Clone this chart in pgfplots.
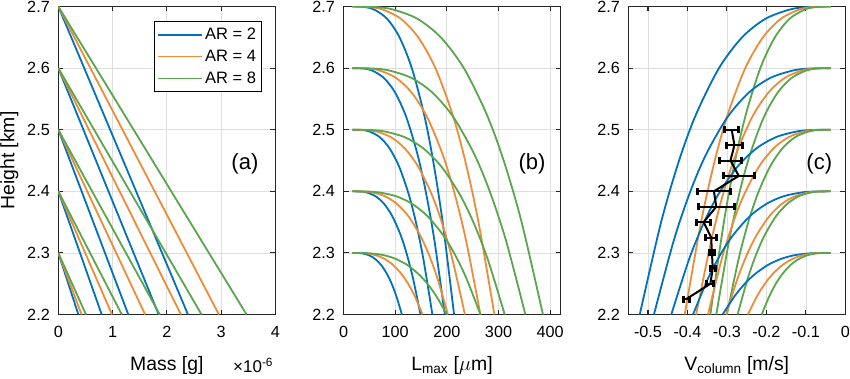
\documentclass[border=0pt]{standalone}
\usepackage{pgfplots}
\pgfplotsset{compat=1.18}
\usepackage{pgfplotstable}
\usepackage{fontspec}
\setmainfont{Liberation Sans}

\definecolor{mblue}{rgb}{0.0,0.447,0.741}
\definecolor{morange}{rgb}{0.93,0.55,0.22}
\definecolor{mgreen}{rgb}{0.35,0.65,0.30}

% Lmax table: heights h1..h5 (start 2.3..2.7), L for blue/orange/green
\pgfplotstableread{
h1 h2 h3 h4 h5 b1 b2 b3 b4 b5 o1 o2 o3 o4 o5 g1 g2 g3 g4 g5
2.3 2.4 2.5 2.6 2.7 17 17 17 17 17 17 17 17 17 17 17 17 17 17 17
2.2998 2.3996 2.4994 2.5992 2.699 29.1 33.6 36.5 39.6 41.8 34.1 40.3 44.5 48.2 51.7 40.1 48.2 54.2 59.2 63.5
2.299 2.398 2.497 2.596 2.695 37.6 45.4 50.3 55.5 59.4 46.2 56.8 63.9 70.3 76.1 56.3 70.3 80.4 89.0 96.3
2.296 2.392 2.488 2.584 2.68 49.8 62.1 70.0 78.2 84.4 63.5 80.3 91.6 101.8 111.1 79.6 101.8 117.9 131.6 143.2
2.29 2.38 2.47 2.56 2.65 61.5 78.2 88.9 100.1 108.4 80.1 102.8 118.2 132.1 144.6 101.9 132.1 153.9 172.4 188.2
2.28 2.36 2.44 2.52 2.6 73.2 94.2 107.7 121.7 132.2 96.6 125.2 144.5 162.1 177.9 124.1 162.1 189.6 213.0 232.9
2.265 2.33 2.395 2.46 2.525 84.7 110.1 126.3 143.2 155.9 112.9 147.4 170.7 191.8 210.9 146.0 191.8 225.0 253.2 277.1
2.25 2.3 2.35 2.4 2.45 93.2 121.8 140.1 159.1 173.4 125.0 163.9 190.1 213.9 235.4 162.3 213.9 251.2 283.0 310.0
2.23 2.26 2.29 2.32 2.35 102.2 134.2 154.6 176.0 191.9 137.8 181.3 210.6 237.2 261.2 179.5 237.2 279.0 314.5 344.7
2.2 2.2 2.2 2.2 2.2 113 149 172 196 214 153 202 235 265 292 200 265 312 352 386
}\Ltab

% V column table
\pgfplotstableread{
h1 h2 h3 h4 h5 b1 b2 b3 b4 b5 o1 o2 o3 o4 o5 g1 g2 g3 g4 g5
2.3 2.4 2.5 2.6 2.7 -0.037 -0.037 -0.037 -0.037 -0.037 -0.037 -0.037 -0.037 -0.037 -0.037 -0.037 -0.037 -0.037 -0.037 -0.037
2.2998 2.3996 2.4994 2.5992 2.699 -0.0715 -0.081 -0.0879 -0.0934 -0.098 -0.0635 -0.0704 -0.0762 -0.08 -0.0836 -0.0591 -0.0667 -0.0701 -0.0735 -0.0754
2.299 2.398 2.497 2.596 2.695 -0.0959 -0.112 -0.1239 -0.1333 -0.1411 -0.0822 -0.094 -0.1039 -0.1103 -0.1166 -0.0746 -0.0877 -0.0935 -0.0994 -0.1026
2.296 2.392 2.488 2.584 2.68 -0.1307 -0.1564 -0.1752 -0.1902 -0.2025 -0.1088 -0.1276 -0.1434 -0.1536 -0.1635 -0.0969 -0.1177 -0.1269 -0.1362 -0.1413
2.29 2.38 2.47 2.56 2.65 -0.1641 -0.1989 -0.2245 -0.2449 -0.2616 -0.1344 -0.16 -0.1813 -0.1952 -0.2087 -0.1182 -0.1465 -0.159 -0.1716 -0.1785
2.28 2.36 2.44 2.52 2.6 -0.1973 -0.2412 -0.2733 -0.2991 -0.3201 -0.1599 -0.192 -0.2189 -0.2365 -0.2535 -0.1394 -0.1751 -0.1909 -0.2067 -0.2154
2.265 2.33 2.395 2.46 2.525 -0.2302 -0.283 -0.3218 -0.3528 -0.3782 -0.1851 -0.2238 -0.2563 -0.2774 -0.2979 -0.1604 -0.2034 -0.2224 -0.2415 -0.252
2.25 2.3 2.35 2.4 2.45 -0.2546 -0.3141 -0.3578 -0.3927 -0.4213 -0.2037 -0.2474 -0.2839 -0.3078 -0.3308 -0.176 -0.2244 -0.2458 -0.2673 -0.2792
2.23 2.26 2.29 2.32 2.35 -0.2803 -0.3469 -0.3958 -0.4348 -0.4668 -0.2235 -0.2723 -0.3132 -0.3398 -0.3656 -0.1924 -0.2466 -0.2705 -0.2945 -0.3078
2.2 2.2 2.2 2.2 2.2 -0.311 -0.386 -0.441 -0.485 -0.521 -0.247 -0.302 -0.348 -0.378 -0.407 -0.212 -0.273 -0.3 -0.327 -0.342
}\Vtab

\pgfplotsset{
  panel/.style={
    width=217pt, height=308pt, scale only axis,
    ymin=2.2, ymax=2.7, ytick={2.2,2.3,2.4,2.5,2.6,2.7},
    grid=major, major grid style={black!13, line width=0.7pt},
    axis line style={line width=1.1pt, black!85},
    tick align=inside, major tick length=5pt,
    every tick/.style={black!85, line width=1.1pt},
    tick label style={font=\fontsize{16.2}{19}\selectfont},
    xticklabel style={yshift=-8pt},
    yticklabel style={xshift=-5pt, /pgf/number format/.cd, fixed, fixed zerofill, precision=1},
    label style={font=\fontsize{19.4}{23}\selectfont},
    xlabel style={yshift=-12pt},
    /pgf/number format/assume math mode=true,
    clip mode=individual,
  },
  bl/.style={mblue, line width=1.8pt},
  or/.style={morange, line width=1.8pt},
  gr/.style={mgreen, line width=1.8pt},
}

\begin{document}
\begin{tikzpicture}
% ---------------- (a) ----------------
\begin{axis}[panel, at={(58.3pt,63.5pt)}, anchor=south west,
  xmin=0, xmax=4, xtick={0,1,2,3,4},
  xlabel={Mass [g]}, ylabel={Height [km]},
  ylabel style={yshift=2pt},
  legend style={at={(0.935,0.95)}, anchor=north east, draw=none, fill=white, name=legA,
    font=\fontsize{16.5}{20}\selectfont, row sep=5pt, inner xsep=3pt, inner ysep=4pt,
    cells={anchor=west}},
  legend image code/.code={\draw[#1, line width=1.8pt] (0pt,0pt) -- (44pt,0pt);},
]
\addplot[bl] coordinates {(0,2.7) (2.39,2.2)};
\addlegendentry{AR = 2}
\addplot[or] coordinates {(0,2.7) (2.96,2.2)};
\addlegendentry{AR = 4}
\addplot[gr] coordinates {(0,2.7) (3.47,2.2)};
\addlegendentry{AR = 8}
\addplot[bl, forget plot] coordinates {(0,2.6) (1.85,2.2)};
\addplot[or, forget plot] coordinates {(0,2.6) (2.26,2.2)};
\addplot[gr, forget plot] coordinates {(0,2.6) (2.64,2.2)};
\addplot[bl, forget plot] coordinates {(0,2.5) (1.29,2.2)};
\addplot[or, forget plot] coordinates {(0,2.5) (1.60,2.2)};
\addplot[gr, forget plot] coordinates {(0,2.5) (1.87,2.2)};
\addplot[bl, forget plot] coordinates {(0,2.4) (0.80,2.2)};
\addplot[or, forget plot] coordinates {(0,2.4) (0.99,2.2)};
\addplot[gr, forget plot] coordinates {(0,2.4) (1.17,2.2)};
\addplot[bl, forget plot] coordinates {(0,2.3) (0.37,2.2)};
\addplot[or, forget plot] coordinates {(0,2.3) (0.43,2.2)};
\addplot[gr, forget plot] coordinates {(0,2.3) (0.51,2.2)};
\node[font=\fontsize{22}{26}\selectfont] at (axis cs:3.44,2.444) {(a)};
\node[anchor=base east, font=\fontsize{17}{20}\selectfont, inner sep=0pt] at (rel axis cs:1,0) [yshift=-58pt, xshift=-2pt] {×10\textsuperscript{-6}};
\end{axis}
\draw[black, line width=0.9pt] (legA.south west) rectangle (legA.north east);

% ---------------- (b) ----------------
\begin{axis}[panel, at={(343.5pt,63.5pt)}, anchor=south west,
  xmin=0, xmax=420, xtick={0,100,200,300,400},
  xlabel={L\textsubscript{max} [$\mu$m]},
]
\foreach \i in {5,4,3,2,1} {
  \addplot[bl, smooth] table[x=b\i, y=h\i] {\Ltab};
  \addplot[or, smooth] table[x=o\i, y=h\i] {\Ltab};
  \addplot[gr, smooth] table[x=g\i, y=h\i] {\Ltab};
}
\node[font=\fontsize{22}{26}\selectfont] at (axis cs:365,2.444) {(b)};
\end{axis}

% ---------------- (c) ----------------
\begin{axis}[panel, at={(628.3pt,63.5pt)}, anchor=south west,
  xmin=-0.55, xmax=0, xtick={-0.5,-0.4,-0.3,-0.2,-0.1,0},
  xlabel={V\textsubscript{column} [m/s]},
]
\foreach \i in {5,4,3,2,1} {
  \addplot[bl, smooth] table[x=b\i, y=h\i] {\Vtab};
  \addplot[or, smooth] table[x=o\i, y=h\i] {\Vtab};
  \addplot[gr, smooth] table[x=g\i, y=h\i] {\Vtab};
}
\addplot[draw=black, line width=2pt, mark=none,
  /pgfplots/error bars/x dir=both,
  /pgfplots/error bars/x explicit,
  /pgfplots/error bars/error mark=|,
  /pgfplots/error bars/error bar style={line width=2pt, black},
  /pgfplots/error bars/error mark options={mark size=3.5pt, line width=3pt, black}]
  coordinates {
  (-0.288,2.5) +- (0.017,0)
  (-0.281,2.475) +- (0.021,0)
  (-0.291,2.45) +- (0.028,0)
  (-0.270,2.425) +- (0.039,0)
  (-0.333,2.4) +- (0.042,0)
  (-0.327,2.375) +- (0.046,0)
  (-0.359,2.35) +- (0.018,0)
  (-0.340,2.325) +- (0.014,0)
  (-0.338,2.3) +- (0.006,0)
  (-0.336,2.275) +- (0.006,0)
  (-0.342,2.25) +- (0.009,0)
  (-0.403,2.225) +- (0.008,0)
  };
\node[font=\fontsize{22}{26}\selectfont] at (axis cs:-0.066,2.444) {(c)};
\end{axis}

\pgfresetboundingbox
\useasboundingbox (0,0) rectangle (850pt,378pt);
\end{tikzpicture}
\end{document}
